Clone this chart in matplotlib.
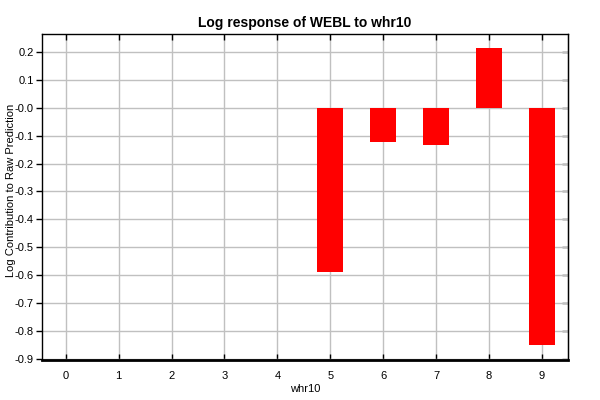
import matplotlib
matplotlib.use("Agg")
import matplotlib.pyplot as plt
from matplotlib.ticker import FixedLocator, FixedFormatter

# donnees
categories = [0, 1, 2, 3, 4, 5, 6, 7, 8, 9]
values = [0, 0, 0, 0, 0, -0.588, -0.122, -0.133, 0.215, -0.849]
y_ticks = [0.2, 0.1, 0.0, -0.1, -0.2, -0.3, -0.4, -0.5, -0.6, -0.7, -0.8, -0.9]
y_labels = ["0.2", "0.1", "-0.0", "-0.1", "-0.2", "-0.3", "-0.4", "-0.5",
            "-0.6", "-0.7", "-0.8", "-0.9"]

plt.rcParams['font.family'] = ['Liberation Sans', 'DejaVu Sans']

fig = plt.figure(figsize=(6, 4), dpi=100)
ax = fig.add_axes([0.07, 0.10, 0.877, 0.815])

ax.bar(categories, values, width=0.5, color="#ff0000", zorder=3)

ax.set_xlim(-0.45, 9.5)
ax.set_ylim(-0.904, 0.2645)
ax.set_xticks(categories)
ax.yaxis.set_major_locator(FixedLocator(y_ticks))
ax.yaxis.set_major_formatter(FixedFormatter(y_labels))

ax.grid(True, color="#c0c0c0", linewidth=1, zorder=0)
ax.set_axisbelow(True)

ax.tick_params(axis="y", direction="out", length=4, labelsize=8, width=1, pad=2)
ax.tick_params(axis="x", direction="in", length=4, labelsize=8, width=1, pad=8)
ax.tick_params(axis="x", top=True)
for s in ax.spines.values():
    s.set_linewidth(1)
ax.spines["bottom"].set_linewidth(2)

# ticks a droite vers l'interieur
sec = ax.secondary_yaxis("right")
sec.set_yticks(y_ticks)
sec.tick_params(direction="in", length=4, width=1, labelright=False)

ax.set_title("Log response of WEBL to whr10", fontsize=10, fontweight="bold", pad=5)
ax.set_xlabel("whr10", fontsize=8, labelpad=2)
ax.set_ylabel("Log Contribution to Raw Prediction", fontsize=8)
ax.yaxis.set_label_coords(-0.05, 0.52)

fig.savefig("out.png", dpi=100)
